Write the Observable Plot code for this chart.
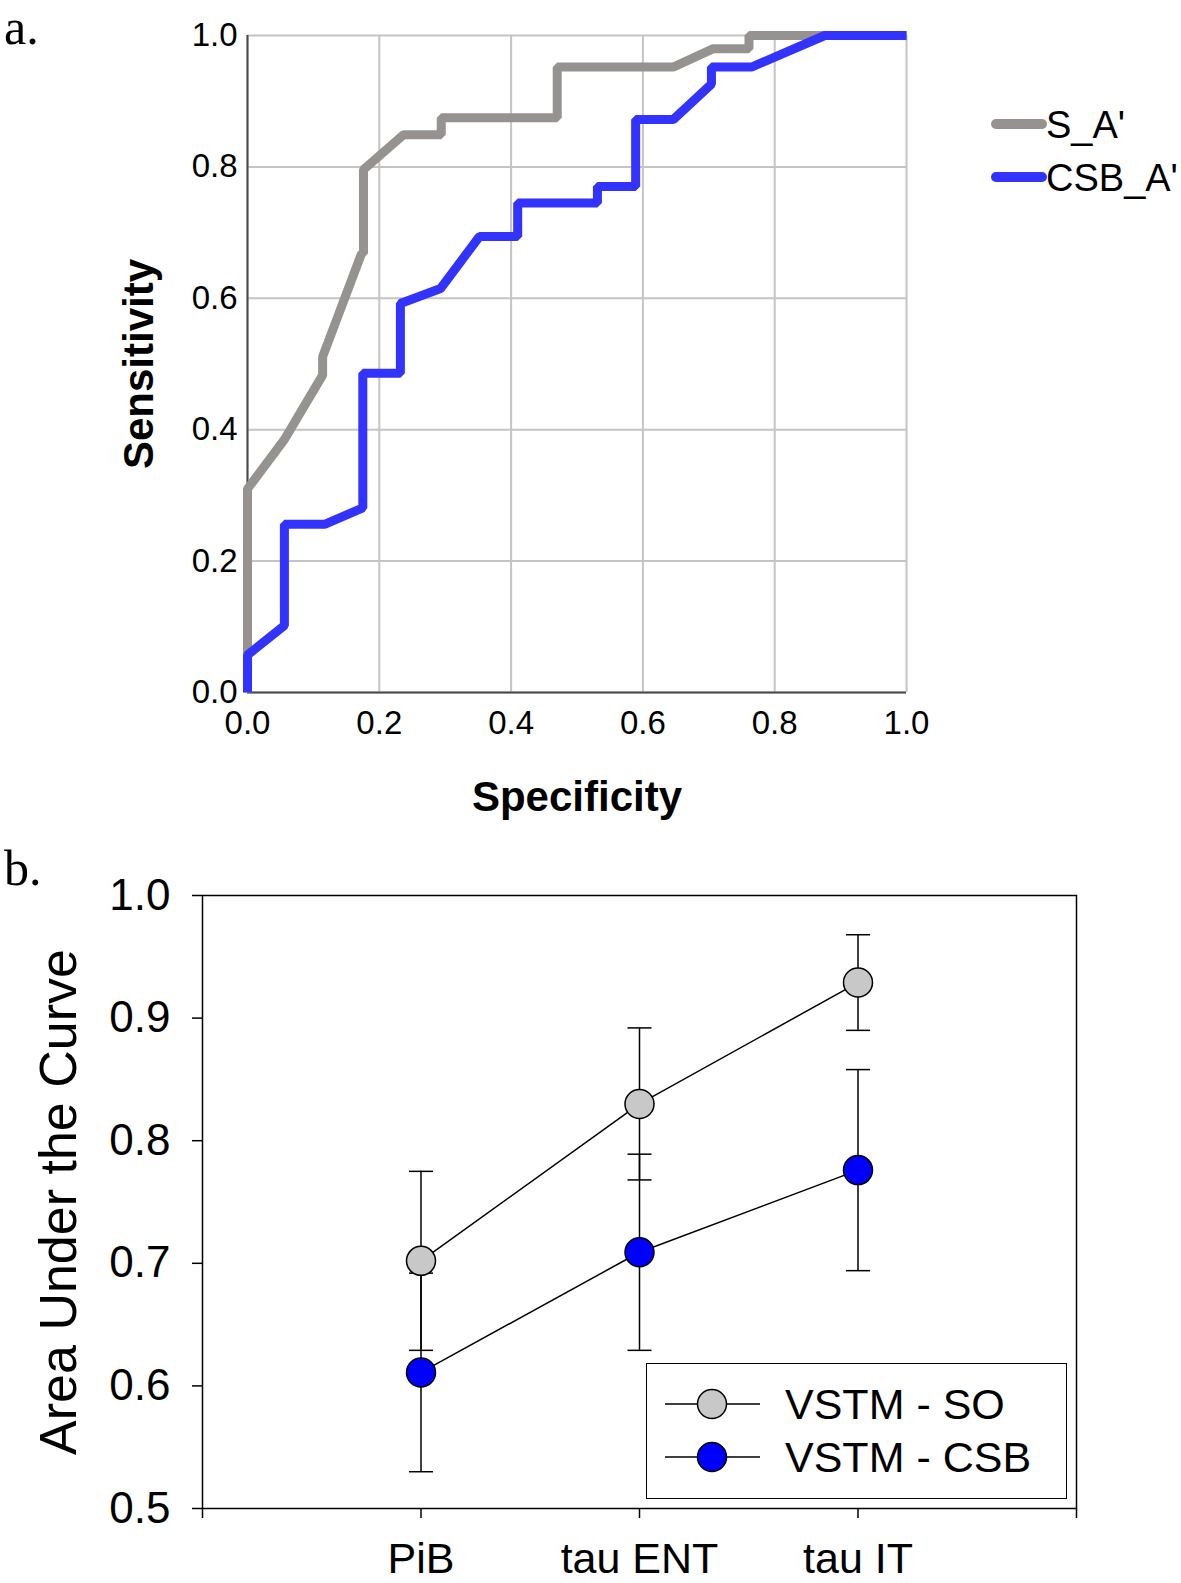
<!DOCTYPE html>
<html>
<head>
<meta charset="utf-8">
<script src="https://cdn.jsdelivr.net/npm/d3@7"></script>
<script src="https://cdn.jsdelivr.net/npm/@observablehq/plot@0.6"></script>
<style>
  html, body { margin: 0; padding: 0; background: #fff; }
  #page { position: relative; width: 1181px; height: 1583px; background: #fff; overflow: hidden; font-family: "Liberation Sans", Arial, sans-serif; }
  .abs { position: absolute; }
  .panel-label { position: absolute; font-family: "Liberation Serif", "Times New Roman", serif; font-size: 50px; line-height: 1; color: #000; }
</style>
</head>
<body>
<div id="page">
  <div class="panel-label" style="left:4px; top:2px;">a.</div>
  <div class="panel-label" style="left:4px; top:843px;">b.</div>
  <div id="chartA" class="abs" style="left:0; top:0;"></div>
  <div id="chartB" class="abs" style="left:0; top:840px;"></div>
  <svg id="legendA" class="abs" style="left:980px; top:95px;" width="200" height="110"></svg>
  <div id="legendB" class="abs" style="left:646px; top:1363px; width:419px; height:134px; border:1.5px solid #000; background:#fff;"></div>
</div>
<script>
// ---------- Panel a: ROC curves ----------
const rocSeries = ["S_A'", "CSB_A'"];
const rocColors = ["#96928f", "#3333ff"];
const axisTicksA = [0, 0.2, 0.4, 0.6, 0.8, 1.0];

const sSpecificity = [0, 0, 0.056, 0.114, 0.114, 0.173, 0.176, 0.176, 0.237, 0.294, 0.294, 0.47, 0.47, 0.646, 0.707, 0.761, 0.761, 1.0];
const sSensitivity = [0, 0.31, 0.385, 0.483, 0.511, 0.668, 0.668, 0.796, 0.849, 0.849, 0.875, 0.875, 0.952, 0.952, 0.98, 0.98, 1.0, 1.0];

const csbSpecificity = [0, 0, 0.056, 0.056, 0.117, 0.175, 0.175, 0.232, 0.232, 0.293, 0.352, 0.41, 0.41, 0.531, 0.531, 0.589, 0.589, 0.646, 0.704, 0.704, 0.765, 0.876, 1.0];
const csbSensitivity = [0, 0.057, 0.102, 0.256, 0.256, 0.281, 0.486, 0.486, 0.592, 0.615, 0.694, 0.694, 0.745, 0.745, 0.770, 0.770, 0.872, 0.872, 0.926, 0.952, 0.952, 1.0, 1.0];

// ---------- Panel b: AUC with error bars ----------
const categories = ["PiB", "tau ENT", "tau IT"];
const aucSeries = ["VSTM - SO", "VSTM - CSB"];
const aucFill = ["#c8c8c8", "#0000ff"];
const soAUC = [0.702, 0.830, 0.929];
const soErr = [0.073, 0.062, 0.039];
const csbAUC = [0.611, 0.709, 0.776];
const csbErr = [0.081, 0.080, 0.082];
const axisTicksB = [0.5, 0.6, 0.7, 0.8, 0.9, 1.0];

const FONT = '"Liberation Sans", Arial, sans-serif';

// build tables
const sData = sSpecificity.map((x, i) => ({x, y: sSensitivity[i]}));
const csbData = csbSpecificity.map((x, i) => ({x, y: csbSensitivity[i]}));

const chartA = Plot.plot({
  width: 960, height: 850,
  marginLeft: 247, marginRight: 54, marginTop: 35, marginBottom: 158,
  style: {fontFamily: FONT, color: "#000", background: "transparent", overflow: "visible"},
  x: {domain: [0, 1]},
  y: {domain: [0, 1]},
  marks: [
    Plot.gridX(axisTicksA, {stroke: "#c4c4c4", strokeOpacity: 1, strokeWidth: 2}),
    Plot.gridY(axisTicksA, {stroke: "#c4c4c4", strokeOpacity: 1, strokeWidth: 2}),
    Plot.ruleX([0], {stroke: "#4a4a4a", strokeWidth: 2}),
    Plot.ruleY([0], {stroke: "#4a4a4a", strokeWidth: 2}),
    Plot.line(sData, {x: "x", y: "y", stroke: rocColors[0], strokeWidth: 9, strokeLinejoin: "miter", strokeLinecap: "butt"}),
    Plot.line(csbData, {x: "x", y: "y", stroke: rocColors[1], strokeWidth: 9, strokeLinejoin: "miter", strokeLinecap: "butt"}),
    Plot.axisX(axisTicksA, {tickSize: 0, tickPadding: 18, tickFormat: d3.format(".1f"), fontSize: 33, label: null}),
    Plot.axisY(axisTicksA, {tickSize: 0, tickPadding: 10, tickFormat: d3.format(".1f"), fontSize: 33, label: null}),
    Plot.text(["Specificity"], {text: d => d, frameAnchor: "bottom", lineAnchor: "middle", textAnchor: "middle", dy: 105, fontSize: 42, fontWeight: "bold"}),
    Plot.text(["Sensitivity"], {text: d => d, frameAnchor: "left", textAnchor: "middle", lineAnchor: "middle", dx: -108, rotate: -90, fontSize: 42, fontWeight: "bold"})
  ]
});
document.getElementById("chartA").appendChild(chartA);

// legend a
(function() {
  const svg = d3.select("#legendA");
  rocSeries.forEach((name, i) => {
    const cy = 29 + i * 53;
    svg.append("line").attr("x1", 16).attr("x2", 62).attr("y1", cy).attr("y2", cy)
      .attr("stroke", rocColors[i]).attr("stroke-width", 10).attr("stroke-linecap", "round");
    svg.append("text").attr("x", 66).attr("y", cy).attr("dy", "0.36em")
      .attr("font-family", FONT).attr("font-size", 38).attr("fill", "#000").text(name);
  });
})();

// ---------- Panel b chart ----------
const aucData = [];
[soAUC, csbAUC].forEach((vals, s) => {
  const errs = s === 0 ? soErr : csbErr;
  vals.forEach((v, i) => aucData.push({series: aucSeries[s], cat: categories[i], x: i + 1, y: v, lo: v - errs[i], hi: v + errs[i]}));
});

const capSymbol = {
  draw(ctx, size) {
    const w = Math.sqrt(size / Math.PI);
    ctx.moveTo(-w, 0);
    ctx.lineTo(w, 0);
  }
};

const chartB = Plot.plot({
  width: 1181, height: 743,
  marginLeft: 202, marginRight: 105, marginTop: 55, marginBottom: 75,
  style: {fontFamily: FONT, color: "#000", background: "transparent", overflow: "visible"},
  x: {domain: [0, categories.length + 1]},
  y: {domain: [0.5, 1.0]},
  color: {domain: aucSeries, range: aucFill},
  marks: [
    Plot.frame({stroke: "#000", strokeWidth: 1.5}),
    Plot.ruleX(aucData, {x: "x", y1: "lo", y2: "hi", stroke: "#000", strokeWidth: 1.5}),
    Plot.dot(aucData, {x: "x", y: "lo", symbol: capSymbol, r: 12, stroke: "#000", strokeWidth: 1.5, fill: "none"}),
    Plot.dot(aucData, {x: "x", y: "hi", symbol: capSymbol, r: 12, stroke: "#000", strokeWidth: 1.5, fill: "none"}),
    Plot.line(aucData, {x: "x", y: "y", z: "series", stroke: "#000", strokeWidth: 1.5}),
    Plot.dot(aucData, {x: "x", y: "y", fill: "series", r: 14.5, stroke: "#000", strokeWidth: 1.5}),
    Plot.axisY(axisTicksB, {tickSize: 10, tickPadding: 22, strokeWidth: 1.5, tickFormat: d3.format(".1f"), fontSize: 44, label: null}),
    Plot.axisX(d3.range(0, categories.length + 2), {tickSize: 10, tickPadding: 24, strokeWidth: 1.5,
      tickFormat: i => categories[i - 1] ?? "", fontSize: 43, label: null}),
    Plot.text(["Area Under the Curve"], {text: d => d, frameAnchor: "left", textAnchor: "middle", lineAnchor: "middle", dx: -143, rotate: -90, fontSize: 52})
  ]
});
document.getElementById("chartB").appendChild(chartB);

// legend b
(function() {
  const box = d3.select("#legendB");
  const svg = box.append("svg").attr("width", 419).attr("height", 134).style("display", "block");
  aucSeries.forEach((name, i) => {
    const cy = 40 + i * 53;
    svg.append("line").attr("x1", 18).attr("x2", 113).attr("y1", cy).attr("y2", cy)
      .attr("stroke", "#000").attr("stroke-width", 1.5);
    svg.append("circle").attr("cx", 65).attr("cy", cy).attr("r", 14.5)
      .attr("fill", aucFill[i]).attr("stroke", "#000").attr("stroke-width", 1.5);
    svg.append("text").attr("x", 138).attr("y", cy).attr("dy", "0.36em")
      .attr("font-family", FONT).attr("font-size", 43).attr("fill", "#000").text(name);
  });
})();
</script>
</body>
</html>
